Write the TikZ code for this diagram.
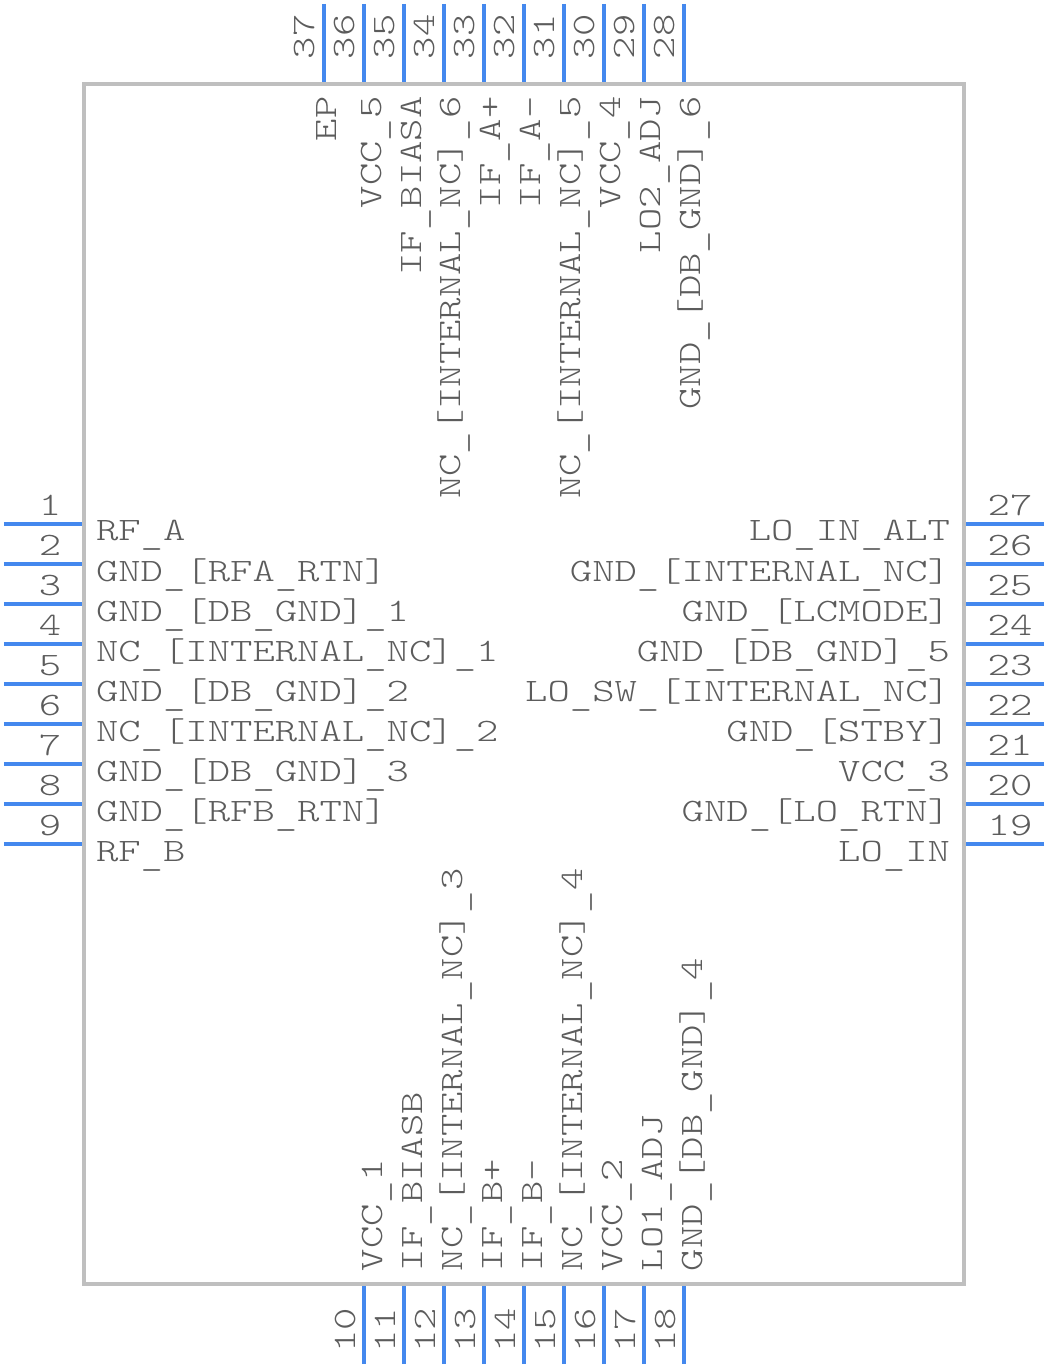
\documentclass[tikz,border=0pt]{standalone}
\usepackage{fontspec}
\newfontfamily\pinfont[FakeStretch=1.303]{Latin Modern Mono Light}
\usepackage{tikz}
\usetikzlibrary{positioning}
\newcommand{\pu}{\raisebox{-0.04cm}{\_}}
\tikzset{
  pinline/.style={draw=cpin,line width=0.04cm},
  pintext/.style={text=ctxt,inner sep=0pt,outer sep=0pt,font=\pinfont\fontsize{9.3pt}{9.3pt}\selectfont},
  chipbox/.style={draw=cbox,line width=0.04cm,inner sep=0pt,outer sep=0pt,minimum width=8.8cm,minimum height=12cm},
}
\begin{document}
\begin{tikzpicture}
%
\useasboundingbox (0,0) rectangle (10.48cm,13.68cm);
%
\definecolor{cpin}{rgb}{0.267,0.533,0.933}
\definecolor{cbox}{rgb}{0.749,0.749,0.749}
\definecolor{ctxt}{rgb}{0.360,0.360,0.360}
%
\node[chipbox] (chip) at (5.24cm,6.84cm) {};
%
\coordinate (p1o) at (0.04cm,8.44cm);  \coordinate (p1i) at (0.82cm,8.44cm);
\coordinate (p2o) at (0.04cm,8.04cm);  \coordinate (p2i) at (0.82cm,8.04cm);
\coordinate (p3o) at (0.04cm,7.64cm);  \coordinate (p3i) at (0.82cm,7.64cm);
\coordinate (p4o) at (0.04cm,7.24cm);  \coordinate (p4i) at (0.82cm,7.24cm);
\coordinate (p5o) at (0.04cm,6.84cm);  \coordinate (p5i) at (0.82cm,6.84cm);
\coordinate (p6o) at (0.04cm,6.44cm);  \coordinate (p6i) at (0.82cm,6.44cm);
\coordinate (p7o) at (0.04cm,6.04cm);  \coordinate (p7i) at (0.82cm,6.04cm);
\coordinate (p8o) at (0.04cm,5.64cm);  \coordinate (p8i) at (0.82cm,5.64cm);
\coordinate (p9o) at (0.04cm,5.24cm);  \coordinate (p9i) at (0.82cm,5.24cm);
%
\coordinate (p10o) at (3.64cm,0.04cm); \coordinate (p10i) at (3.64cm,0.82cm);
\coordinate (p11o) at (4.04cm,0.04cm); \coordinate (p11i) at (4.04cm,0.82cm);
\coordinate (p12o) at (4.44cm,0.04cm); \coordinate (p12i) at (4.44cm,0.82cm);
\coordinate (p13o) at (4.84cm,0.04cm); \coordinate (p13i) at (4.84cm,0.82cm);
\coordinate (p14o) at (5.24cm,0.04cm); \coordinate (p14i) at (5.24cm,0.82cm);
\coordinate (p15o) at (5.64cm,0.04cm); \coordinate (p15i) at (5.64cm,0.82cm);
\coordinate (p16o) at (6.04cm,0.04cm); \coordinate (p16i) at (6.04cm,0.82cm);
\coordinate (p17o) at (6.44cm,0.04cm); \coordinate (p17i) at (6.44cm,0.82cm);
\coordinate (p18o) at (6.84cm,0.04cm); \coordinate (p18i) at (6.84cm,0.82cm);
%
\coordinate (p19o) at (10.44cm,5.24cm); \coordinate (p19i) at (9.66cm,5.24cm);
\coordinate (p20o) at (10.44cm,5.64cm); \coordinate (p20i) at (9.66cm,5.64cm);
\coordinate (p21o) at (10.44cm,6.04cm); \coordinate (p21i) at (9.66cm,6.04cm);
\coordinate (p22o) at (10.44cm,6.44cm); \coordinate (p22i) at (9.66cm,6.44cm);
\coordinate (p23o) at (10.44cm,6.84cm); \coordinate (p23i) at (9.66cm,6.84cm);
\coordinate (p24o) at (10.44cm,7.24cm); \coordinate (p24i) at (9.66cm,7.24cm);
\coordinate (p25o) at (10.44cm,7.64cm); \coordinate (p25i) at (9.66cm,7.64cm);
\coordinate (p26o) at (10.44cm,8.04cm); \coordinate (p26i) at (9.66cm,8.04cm);
\coordinate (p27o) at (10.44cm,8.44cm); \coordinate (p27i) at (9.66cm,8.44cm);
%
\coordinate (p28o) at (6.84cm,13.64cm); \coordinate (p28i) at (6.84cm,12.86cm);
\coordinate (p29o) at (6.44cm,13.64cm); \coordinate (p29i) at (6.44cm,12.86cm);
\coordinate (p30o) at (6.04cm,13.64cm); \coordinate (p30i) at (6.04cm,12.86cm);
\coordinate (p31o) at (5.64cm,13.64cm); \coordinate (p31i) at (5.64cm,12.86cm);
\coordinate (p32o) at (5.24cm,13.64cm); \coordinate (p32i) at (5.24cm,12.86cm);
\coordinate (p33o) at (4.84cm,13.64cm); \coordinate (p33i) at (4.84cm,12.86cm);
\coordinate (p34o) at (4.44cm,13.64cm); \coordinate (p34i) at (4.44cm,12.86cm);
\coordinate (p35o) at (4.04cm,13.64cm); \coordinate (p35i) at (4.04cm,12.86cm);
\coordinate (p36o) at (3.64cm,13.64cm); \coordinate (p36i) at (3.64cm,12.86cm);
\coordinate (p37o) at (3.24cm,13.64cm); \coordinate (p37i) at (3.24cm,12.86cm);
%
\draw[pinline] (p1o) -- (p1i);
\draw[pinline] (p2o) -- (p2i);
\draw[pinline] (p3o) -- (p3i);
\draw[pinline] (p4o) -- (p4i);
\draw[pinline] (p5o) -- (p5i);
\draw[pinline] (p6o) -- (p6i);
\draw[pinline] (p7o) -- (p7i);
\draw[pinline] (p8o) -- (p8i);
\draw[pinline] (p9o) -- (p9i);
\draw[pinline] (p10o) -- (p10i);
\draw[pinline] (p11o) -- (p11i);
\draw[pinline] (p12o) -- (p12i);
\draw[pinline] (p13o) -- (p13i);
\draw[pinline] (p14o) -- (p14i);
\draw[pinline] (p15o) -- (p15i);
\draw[pinline] (p16o) -- (p16i);
\draw[pinline] (p17o) -- (p17i);
\draw[pinline] (p18o) -- (p18i);
\draw[pinline] (p19o) -- (p19i);
\draw[pinline] (p20o) -- (p20i);
\draw[pinline] (p21o) -- (p21i);
\draw[pinline] (p22o) -- (p22i);
\draw[pinline] (p23o) -- (p23i);
\draw[pinline] (p24o) -- (p24i);
\draw[pinline] (p25o) -- (p25i);
\draw[pinline] (p26o) -- (p26i);
\draw[pinline] (p27o) -- (p27i);
\draw[pinline] (p28o) -- (p28i);
\draw[pinline] (p29o) -- (p29i);
\draw[pinline] (p30o) -- (p30i);
\draw[pinline] (p31o) -- (p31i);
\draw[pinline] (p32o) -- (p32i);
\draw[pinline] (p33o) -- (p33i);
\draw[pinline] (p34o) -- (p34i);
\draw[pinline] (p35o) -- (p35i);
\draw[pinline] (p36o) -- (p36i);
\draw[pinline] (p37o) -- (p37i);
%
\node[pintext,anchor=base] (n1) at (0.50cm,8.52cm) {1};
\node[pintext,anchor=base] (n2) at (0.50cm,8.12cm) {2};
\node[pintext,anchor=base] (n3) at (0.50cm,7.72cm) {3};
\node[pintext,anchor=base] (n4) at (0.50cm,7.32cm) {4};
\node[pintext,anchor=base] (n5) at (0.50cm,6.92cm) {5};
\node[pintext,anchor=base] (n6) at (0.50cm,6.52cm) {6};
\node[pintext,anchor=base] (n7) at (0.50cm,6.12cm) {7};
\node[pintext,anchor=base] (n8) at (0.50cm,5.72cm) {8};
\node[pintext,anchor=base] (n9) at (0.50cm,5.32cm) {9};
\node[pintext,anchor=base,rotate=90] (n10) at (3.55cm,0.38cm) {10};
\node[pintext,anchor=base,rotate=90] (n11) at (3.95cm,0.38cm) {11};
\node[pintext,anchor=base,rotate=90] (n12) at (4.35cm,0.38cm) {12};
\node[pintext,anchor=base,rotate=90] (n13) at (4.75cm,0.38cm) {13};
\node[pintext,anchor=base,rotate=90] (n14) at (5.15cm,0.38cm) {14};
\node[pintext,anchor=base,rotate=90] (n15) at (5.55cm,0.38cm) {15};
\node[pintext,anchor=base,rotate=90] (n16) at (5.95cm,0.38cm) {16};
\node[pintext,anchor=base,rotate=90] (n17) at (6.35cm,0.38cm) {17};
\node[pintext,anchor=base,rotate=90] (n18) at (6.75cm,0.38cm) {18};
\node[pintext,anchor=base] (n19) at (10.10cm,5.32cm) {19};
\node[pintext,anchor=base] (n20) at (10.10cm,5.72cm) {20};
\node[pintext,anchor=base] (n21) at (10.10cm,6.12cm) {21};
\node[pintext,anchor=base] (n22) at (10.10cm,6.52cm) {22};
\node[pintext,anchor=base] (n23) at (10.10cm,6.92cm) {23};
\node[pintext,anchor=base] (n24) at (10.10cm,7.32cm) {24};
\node[pintext,anchor=base] (n25) at (10.10cm,7.72cm) {25};
\node[pintext,anchor=base] (n26) at (10.10cm,8.12cm) {26};
\node[pintext,anchor=base] (n27) at (10.10cm,8.52cm) {27};
\node[pintext,anchor=base,rotate=90] (n28) at (6.745cm,13.31cm) {28};
\node[pintext,anchor=base,rotate=90] (n29) at (6.345cm,13.31cm) {29};
\node[pintext,anchor=base,rotate=90] (n30) at (5.945cm,13.31cm) {30};
\node[pintext,anchor=base,rotate=90] (n31) at (5.545cm,13.31cm) {31};
\node[pintext,anchor=base,rotate=90] (n32) at (5.145cm,13.31cm) {32};
\node[pintext,anchor=base,rotate=90] (n33) at (4.745cm,13.31cm) {33};
\node[pintext,anchor=base,rotate=90] (n34) at (4.345cm,13.31cm) {34};
\node[pintext,anchor=base,rotate=90] (n35) at (3.945cm,13.31cm) {35};
\node[pintext,anchor=base,rotate=90] (n36) at (3.545cm,13.31cm) {36};
\node[pintext,anchor=base,rotate=90] (n37) at (3.145cm,13.31cm) {37};
%
\node[pintext,anchor=base west] (l1) at (0.96cm,8.27cm) {RF\pu A};
\node[pintext,anchor=base west] (l2) at (0.96cm,7.86cm) {GND\pu[RFA\pu RTN]};
\node[pintext,anchor=base west] (l3) at (0.96cm,7.46cm) {GND\pu[DB\pu GND]\pu 1};
\node[pintext,anchor=base west] (l4) at (0.96cm,7.06cm) {NC\pu[INTERNAL\pu NC]\pu 1};
\node[pintext,anchor=base west] (l5) at (0.96cm,6.66cm) {GND\pu[DB\pu GND]\pu 2};
\node[pintext,anchor=base west] (l6) at (0.96cm,6.26cm) {NC\pu[INTERNAL\pu NC]\pu 2};
\node[pintext,anchor=base west] (l7) at (0.96cm,5.86cm) {GND\pu[DB\pu GND]\pu 3};
\node[pintext,anchor=base west] (l8) at (0.96cm,5.46cm) {GND\pu[RFB\pu RTN]};
\node[pintext,anchor=base west] (l9) at (0.96cm,5.06cm) {RF\pu B};
%
\node[pintext,anchor=base west,rotate=90] (l10) at (3.82cm,0.97cm) {VCC\pu 1};
\node[pintext,anchor=base west,rotate=90] (l11) at (4.22cm,0.97cm) {IF\pu BIASB};
\node[pintext,anchor=base west,rotate=90] (l12) at (4.62cm,0.97cm) {NC\pu[INTERNAL\pu NC]\pu 3};
\node[pintext,anchor=base west,rotate=90] (l13) at (5.02cm,0.97cm) {IF\pu B+};
\node[pintext,anchor=base west,rotate=90] (l14) at (5.42cm,0.97cm) {IF\pu B-};
\node[pintext,anchor=base west,rotate=90] (l15) at (5.82cm,0.97cm) {NC\pu[INTERNAL\pu NC]\pu 4};
\node[pintext,anchor=base west,rotate=90] (l16) at (6.22cm,0.97cm) {VCC\pu 2};
\node[pintext,anchor=base west,rotate=90] (l17) at (6.62cm,0.97cm) {LO1\pu ADJ};
\node[pintext,anchor=base west,rotate=90] (l18) at (7.02cm,0.97cm) {GND\pu[DB\pu GND]\pu 4};
%
\node[pintext,anchor=base east] (l19) at (9.50cm,5.06cm) {LO\pu IN};
\node[pintext,anchor=base east] (l20) at (9.50cm,5.46cm) {GND\pu[LO\pu RTN]};
\node[pintext,anchor=base east] (l21) at (9.50cm,5.86cm) {VCC\pu 3};
\node[pintext,anchor=base east] (l22) at (9.50cm,6.26cm) {GND\pu[STBY]};
\node[pintext,anchor=base east] (l23) at (9.50cm,6.66cm) {LO\pu SW\pu[INTERNAL\pu NC]};
\node[pintext,anchor=base east] (l24) at (9.50cm,7.06cm) {GND\pu[DB\pu GND]\pu 5};
\node[pintext,anchor=base east] (l25) at (9.50cm,7.46cm) {GND\pu[LCMODE]};
\node[pintext,anchor=base east] (l26) at (9.50cm,7.86cm) {GND\pu[INTERNAL\pu NC]};
\node[pintext,anchor=base east] (l27) at (9.50cm,8.27cm) {LO\pu IN\pu ALT};
%
\node[pintext,anchor=base east,rotate=90] (l28) at (7.00cm,12.715cm) {GND\pu[DB\pu GND]\pu 6};
\node[pintext,anchor=base east,rotate=90] (l29) at (6.60cm,12.715cm) {LO2\pu ADJ};
\node[pintext,anchor=base east,rotate=90] (l30) at (6.20cm,12.715cm) {VCC\pu 4};
\node[pintext,anchor=base east,rotate=90] (l31) at (5.80cm,12.715cm) {NC\pu[INTERNAL\pu NC]\pu 5};
\node[pintext,anchor=base east,rotate=90] (l32) at (5.40cm,12.715cm) {IF\pu A-};
\node[pintext,anchor=base east,rotate=90] (l33) at (5.00cm,12.715cm) {IF\pu A+};
\node[pintext,anchor=base east,rotate=90] (l34) at (4.60cm,12.715cm) {NC\pu[INTERNAL\pu NC]\pu 6};
\node[pintext,anchor=base east,rotate=90] (l35) at (4.21cm,12.715cm) {IF\pu BIASA};
\node[pintext,anchor=base east,rotate=90] (l36) at (3.81cm,12.715cm) {VCC\pu 5};
\node[pintext,anchor=base east,rotate=90] (l37) at (3.36cm,12.715cm) {EP};
%
\end{tikzpicture}
\end{document}
